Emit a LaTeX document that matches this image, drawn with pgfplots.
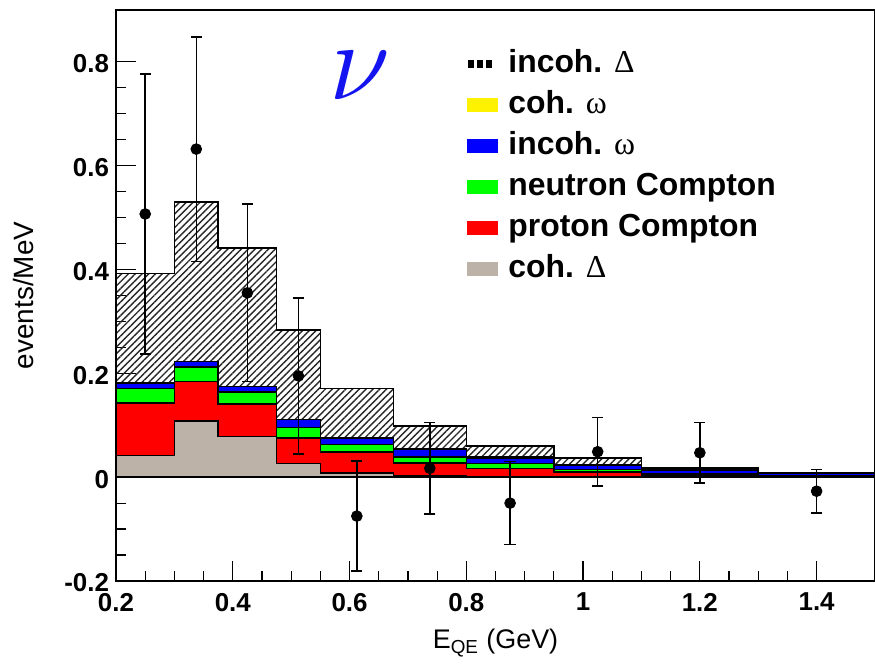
\documentclass[border=0pt]{standalone}
\usepackage{fontspec}
\setmainfont{Liberation Sans}
\newfontfamily\symb{Liberation Serif}
\usepackage{graphicx}
\usepackage{pgfplots}
\pgfplotsset{compat=1.18}
\usetikzlibrary{patterns.meta}
\definecolor{cohD}{RGB}{188,178,168}
\definecolor{nublue}{RGB}{20,20,240}
\begin{document}
\begin{tikzpicture}
\begin{axis}[
  scale only axis, width=379.5bp, height=285.5bp,
  xmin=0.2, xmax=1.5, ymin=-0.2, ymax=0.9,
  xtick={0.2,0.4,0.6,0.8,1,1.2,1.4},
  xticklabels={0.2,0.4,0.6,0.8,1,1.2,1.4},
  ytick={-0.2,0,0.2,0.4,0.6,0.8},
  yticklabels={-0.2,0,0.2,0.4,0.6,0.8},
  minor x tick num=3, minor y tick num=3,
  tick pos=left, tick align=inside,
  major tick length=10bp, minor tick length=5bp,
  tick style={black, line width=0.6bp},
  axis line style={line width=0.75bp},
  tick label style={font=\bfseries\fontsize{13}{13}\selectfont},
  xticklabel style={yshift=-2.5bp},
  yticklabel style={yshift=-1bp},
  /pgf/number format/assume math mode=true,
  xlabel={E\textsubscript{QE} (GeV)},
  ylabel={events/MeV},
  xlabel style={font=\fontsize{13.5}{13.5}\selectfont, at={(axis description cs:0.5,-0.1086)}, anchor=center},
  ylabel style={font=\fontsize{14}{14}\selectfont, at={(axis description cs:-0.1212,0.5)}, anchor=center},
  legend cell align=left,
  legend style={draw=none, fill=none, at={(axis cs:0.79,0.835)}, anchor=north west,
    font=\bfseries\fontsize{16}{16}\selectfont,
    nodes={inner sep=0pt, text height=12bp, text depth=4bp},
    row sep=4.5bp, column sep=5bp},
]
% incoh. Delta (total)
\addplot[const plot, draw=black, line width=0.8bp,
  pattern={Lines[angle=45,distance=2.4bp,line width=0.7bp]}, pattern color=black!85,
  legend image code/.code={
    \draw[black, line width=3bp] (1.5bp,-1.9bp) -- (1.5bp,1.9bp);
    \draw[black, line width=3bp] (6bp,-1.9bp) -- (6bp,1.9bp);
    \draw[black, line width=3bp] (10.5bp,-1.9bp) -- (10.5bp,1.9bp);}]
  coordinates {(0.2,0) (0.2,0.392) (0.3,0.530) (0.375,0.441) (0.475,0.283) (0.55,0.171) (0.675,0.099) (0.8,0.060) (0.95,0.037) (1.1,0.018) (1.3,0.009) (1.5,0.009) (1.5,0)} \closedcycle;
\addlegendentry{incoh. {\symb\mdseries Δ}}
% coh. omega
\addplot[const plot, draw=black, line width=0.8bp, fill=yellow,
  legend image code/.code={\fill[yellow] (0bp,-3.25bp) rectangle (15bp,3.25bp);}]
  coordinates {(0.2,0) (0.2,0.181) (0.3,0.223) (0.375,0.175) (0.475,0.111) (0.55,0.076) (0.675,0.054) (0.8,0.039) (0.95,0.024) (1.1,0.0135) (1.3,0.008) (1.5,0.008) (1.5,0)} \closedcycle;
\addlegendentry{coh. {\symb\mdseries ω}}
% incoh. omega
\addplot[const plot, draw=black, line width=0.8bp, fill=blue,
  legend image code/.code={\fill[blue] (0bp,-3.25bp) rectangle (15bp,3.25bp);}]
  coordinates {(0.2,0) (0.2,0.181) (0.3,0.223) (0.375,0.175) (0.475,0.111) (0.55,0.076) (0.675,0.053) (0.8,0.036) (0.95,0.023) (1.1,0.0135) (1.3,0.008) (1.5,0.008) (1.5,0)} \closedcycle;
\addlegendentry{incoh. {\symb\mdseries ω}}
% neutron Compton
\addplot[const plot, draw=black, line width=0.8bp, fill=green,
  legend image code/.code={\fill[green] (0bp,-3.25bp) rectangle (15bp,3.25bp);}]
  coordinates {(0.2,0) (0.2,0.171) (0.3,0.2125) (0.375,0.164) (0.475,0.096) (0.55,0.063) (0.675,0.039) (0.8,0.026) (0.95,0.015) (1.1,0.006) (1.3,0.003) (1.5,0.003) (1.5,0)} \closedcycle;
\addlegendentry{neutron Compton}
% proton Compton
\addplot[const plot, draw=black, line width=0.8bp, fill=red,
  legend image code/.code={\fill[red] (0bp,-3.25bp) rectangle (15bp,3.25bp);}]
  coordinates {(0.2,0) (0.2,0.143) (0.3,0.184) (0.375,0.141) (0.475,0.076) (0.55,0.048) (0.675,0.027) (0.8,0.017) (0.95,0.010) (1.1,0.004) (1.3,0.002) (1.5,0.002) (1.5,0)} \closedcycle;
\addlegendentry{proton Compton}
% coh. Delta
\addplot[const plot, draw=black, line width=0.8bp, fill=cohD,
  legend image code/.code={\fill[cohD] (0bp,-3.25bp) rectangle (15bp,3.25bp);}]
  coordinates {(0.2,0) (0.2,0.042) (0.3,0.108) (0.375,0.078) (0.475,0.026) (0.55,0.008) (0.675,0.002) (0.8,0.001) (0.95,0) (1.1,0) (1.3,0) (1.5,0) (1.5,0)} \closedcycle;
\addlegendentry{coh. {\symb\mdseries Δ}}
% data
\addplot[forget plot, only marks, mark=*, mark size=2.7bp, black,
  error bars/.cd, y dir=both, y explicit, error mark=-,
  error mark options={mark size=2.8bp, line width=0.7bp, black, rotate=90},
  error bar style={line width=0.7bp, black}]
  coordinates {
    (0.25,0.507) +- (0,0.27)
    (0.3375,0.632) +- (0,0.216)
    (0.425,0.355) +- (0,0.171)
    (0.5125,0.195) +- (0,0.15)
    (0.6125,-0.075) +- (0,0.106)
    (0.7375,0.017) +- (0,0.088)
    (0.875,-0.050) +- (0,0.08)
    (1.025,0.049) +- (0,0.066)
    (1.2,0.047) +- (0,0.058)
    (1.4,-0.027) +- (0,0.042)
  };
\node[text=nublue, inner sep=0pt, font=\fontsize{24.88}{24.88}\selectfont] at (axis cs:0.618,0.773) {\scalebox{2.25}{$\nu$}};
\end{axis}
\pgfresetboundingbox
\path[use as bounding box] ([xshift=-58bp,yshift=-43bp]current axis.south west) rectangle ([yshift=5bp]current axis.north east);
\end{tikzpicture}
\end{document}
